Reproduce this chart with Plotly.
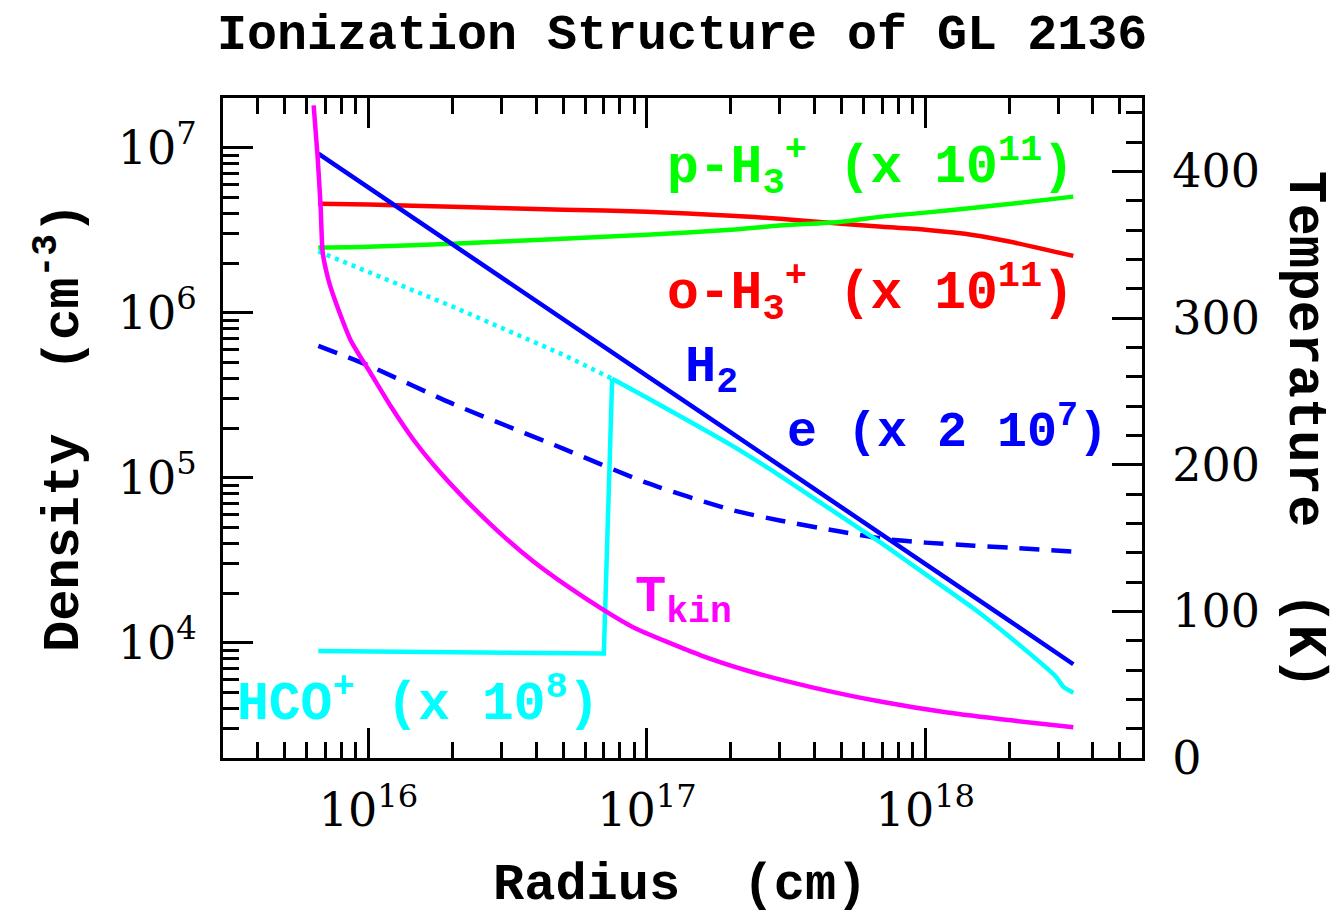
import plotly.graph_objects as go

# ---------------- data ----------------
radius = [6.6e15, 1e16, 2e16, 5e16, 1e17, 2e17, 3e17, 5e17, 7e17, 1e18, 1.5e18, 2e18, 3.4e18]
n_h2 = [9.2e6, 5.71e6, 2.59e6, 9.1e5, 4.14e5, 1.88e5, 1.18e5, 6.6e4, 4.5e4, 3.0e4, 1.89e4, 1.36e4, 7.4e3]
n_oh3 = [4.58e6, 4.52e6, 4.39e6, 4.21e6, 4.09e6, 3.87e6, 3.71e6, 3.46e6, 3.32e6, 3.18e6, 2.95e6, 2.7e6, 2.21e6]
n_ph3 = [2.48e6, 2.51e6, 2.62e6, 2.81e6, 2.97e6, 3.18e6, 3.37e6, 3.56e6, 3.82e6, 4.04e6, 4.33e6, 4.55e6, 5.05e6]
n_e = [6.3e5, 4.78e5, 2.81e5, 1.5e5, 9.3e4, 6.4e4, 5.5e4, 4.7e4, 4.27e4, 4.04e4, 3.87e4, 3.77e4, 3.56e4]

radius_hco_dot = [6.6e15, 1e16, 2e16, 5e16, 7.5e16]
n_hco_dot = [2.35e6, 1.77e6, 1.09e6, 5.56e5, 3.98e5]

radius_hco = [6.6e15, 1.5e16, 7.0e16, 7.5e16, 1e17, 2e17, 3e17, 5e17, 7e17, 1e18,
              1.5e18, 2e18, 2.95e18, 3.13e18, 3.4e18]
n_hco = [8.9e3, 8.8e3, 8.6e3, 3.98e5, 3.05e5, 1.58e5, 1.03e5, 5.8e4, 3.98e4, 2.6e4,
         1.6e4, 1.09e4, 6.2e3, 5.4e3, 4.97e3]

radius_t = [6.35e15, 6.56e15, 6.73e15, 6.84e15, 7.13e15, 7.45e15, 8.61e15, 1.02e16, 1.2e16,
            1.45e16, 1.71e16, 2.26e16, 2.98e16, 3.91e16, 5.19e16, 6.98e16, 8.95e16, 1.56e17,
            2.3e17, 3.96e17, 6.89e17, 1.2e18, 2.07e18, 3.4e18]
t_kin = [445, 410, 375, 345, 328, 316, 285, 262, 240, 217, 200, 175, 153, 134, 117, 101, 89,
         70, 59.5, 48, 38.5, 31, 25.5, 21]

x_tick_vals = [1e16, 1e17, 1e18]
x_tick_text = ["10<sup>16</sup>", "10<sup>17</sup>", "10<sup>18</sup>"]
y_tick_vals = [1e4, 1e5, 1e6, 1e7]
y_tick_text = ["10<sup>4</sup>", "10<sup>5</sup>", "10<sup>6</sup>", "10<sup>7</sup>"]
t_tick_vals = [0, 100, 200, 300, 400]
t_tick_text = ["0", "100", "200", "300", "400"]

# ---------------- styling ----------------
BLUE = "#0000ff"
RED = "#ff0000"
GREEN = "#00ff00"
CYAN = "#00ffff"
MAGENTA = "#ff00ff"
LW = 4.5
MONO = "Liberation Mono"
SERIF = "DejaVu Serif"

W, H = 1334, 919
ML, MR, MT, MB = 223, 192, 98, 161

fig = go.Figure()


def smooth(color, dash=None, s=0.7):
    d = dict(color=color, width=LW, shape="spline", smoothing=s)
    if dash:
        d["dash"] = dash
    return d


fig.add_trace(go.Scatter(x=radius, y=n_oh3, mode="lines", line=smooth(RED)))
fig.add_trace(go.Scatter(x=radius, y=n_ph3, mode="lines", line=smooth(GREEN)))
fig.add_trace(go.Scatter(x=radius, y=n_e, mode="lines", line=smooth(BLUE, "20px,12px")))
fig.add_trace(go.Scatter(x=radius_hco_dot, y=n_hco_dot, mode="lines",
                         line=dict(color=CYAN, width=LW, dash="4px,5px")))
fig.add_trace(go.Scatter(x=radius, y=n_h2, mode="lines", line=dict(color=BLUE, width=LW)))
# HCO+: flat depleted part and jump drawn straight, outer fall-off smoothed
fig.add_trace(go.Scatter(x=radius_hco[:4], y=n_hco[:4], mode="lines",
                         line=dict(color=CYAN, width=LW)))
fig.add_trace(go.Scatter(x=radius_hco[3:], y=n_hco[3:], mode="lines",
                         line=smooth(CYAN, s=0.5)))
fig.add_trace(go.Scatter(x=radius_t, y=t_kin, mode="lines", yaxis="y2",
                         line=smooth(MAGENTA, s=0.6)))

x_minor = [k * 10 ** d for d in range(15, 19) for k in range(2, 10)]
y_minor = [k * 10 ** d for d in range(3, 8) for k in range(2, 10)]
t_minor = list(range(20, 460, 20))

axis_common = dict(showgrid=False, zeroline=False, showline=True, linewidth=3,
                   linecolor="black", ticks="inside", ticklen=30, tickwidth=3,
                   tickcolor="black", tickfont=dict(family=SERIF, size=46, color="black"))

fig.update_layout(
    width=W, height=H,
    margin=dict(l=ML, r=MR, t=MT, b=MB),
    paper_bgcolor="white", plot_bgcolor="white",
    showlegend=False,
    xaxis=dict(type="log", range=[15.4771, 18.7782], tickvals=x_tick_vals,
               ticktext=x_tick_text, mirror="ticks", ticklabelstandoff=10,
               minor=dict(tickvals=x_minor, ticks="inside", ticklen=16, tickwidth=2.5,
                          tickcolor="black"),
               **axis_common),
    yaxis=dict(type="log", range=[3.30103, 7.30103], tickvals=y_tick_vals,
               ticktext=y_tick_text, ticklabelstandoff=14,
               minor=dict(tickvals=y_minor, ticks="inside", ticklen=16, tickwidth=2.5,
                          tickcolor="black"),
               **axis_common),
    yaxis2=dict(overlaying="y", side="right", range=[0, 450], tickvals=t_tick_vals,
                ticktext=t_tick_text, ticklabelstandoff=18,
                minor=dict(tickvals=t_minor, ticks="inside", ticklen=16, tickwidth=2.5,
                           tickcolor="black"),
                **axis_common),
)

PW = W - ML - MR
PH = H - MT - MB


def px(xp):
    return (xp - ML) / PW


def py(yp):
    return (H - MB - yp) / PH


NB = "\u00a0"
annots = [
    dict(text="<b>Ionization Structure of GL 2136</b>", x=px(682), y=py(35),
         xanchor="center", yanchor="middle", size=50, color="black", angle=0),
    dict(text=f"<b>Radius{NB}{NB}(cm)</b>", x=px(680), y=py(885),
         xanchor="center", yanchor="middle", size=52, color="black", angle=0),
    dict(text=f"<b>Density{NB}{NB}(cm<sup>-3</sup>)</b>", x=px(60), y=py(428),
         xanchor="center", yanchor="middle", size=52, color="black", angle=-90),
    dict(text=f"<b>Temperature{NB}{NB}(K)</b>", x=px(1305), y=py(430),
         xanchor="center", yanchor="middle", size=54, color="black", angle=90),
    dict(text="<b>p-H<sub>3</sub><sup>+</sup> (x 10<sup>11</sup>)</b>", x=px(665), y=py(166),
         xanchor="left", yanchor="middle", size=53, color=GREEN, angle=0),
    dict(text="<b>o-H<sub>3</sub><sup>+</sup> (x 10<sup>11</sup>)</b>", x=px(665), y=py(292),
         xanchor="left", yanchor="middle", size=53, color=RED, angle=0),
    dict(text="<b>H<sub>2</sub></b>", x=px(683), y=py(370),
         xanchor="left", yanchor="middle", size=52, color=BLUE, angle=0),
    dict(text="<b>e (x 2 10<sup>7</sup>)</b>", x=px(785), y=py(428),
         xanchor="left", yanchor="middle", size=50, color=BLUE, angle=0),
    dict(text="<b>T<sub>kin</sub></b>", x=px(633), y=py(600),
         xanchor="left", yanchor="middle", size=52, color=MAGENTA, angle=0),
    dict(text="<b>HCO<sup>+</sup> (x 10<sup>8</sup>)</b>", x=px(235), y=py(700),
         xanchor="left", yanchor="middle", size=53, color=CYAN, angle=0),
]
for a in annots:
    fig.add_annotation(text=a["text"], x=a["x"], y=a["y"], xref="paper", yref="paper",
                       xanchor=a["xanchor"], yanchor=a["yanchor"], showarrow=False,
                       textangle=a["angle"],
                       font=dict(family=MONO, size=a["size"], color=a["color"]))

fig.write_html("out.html")
